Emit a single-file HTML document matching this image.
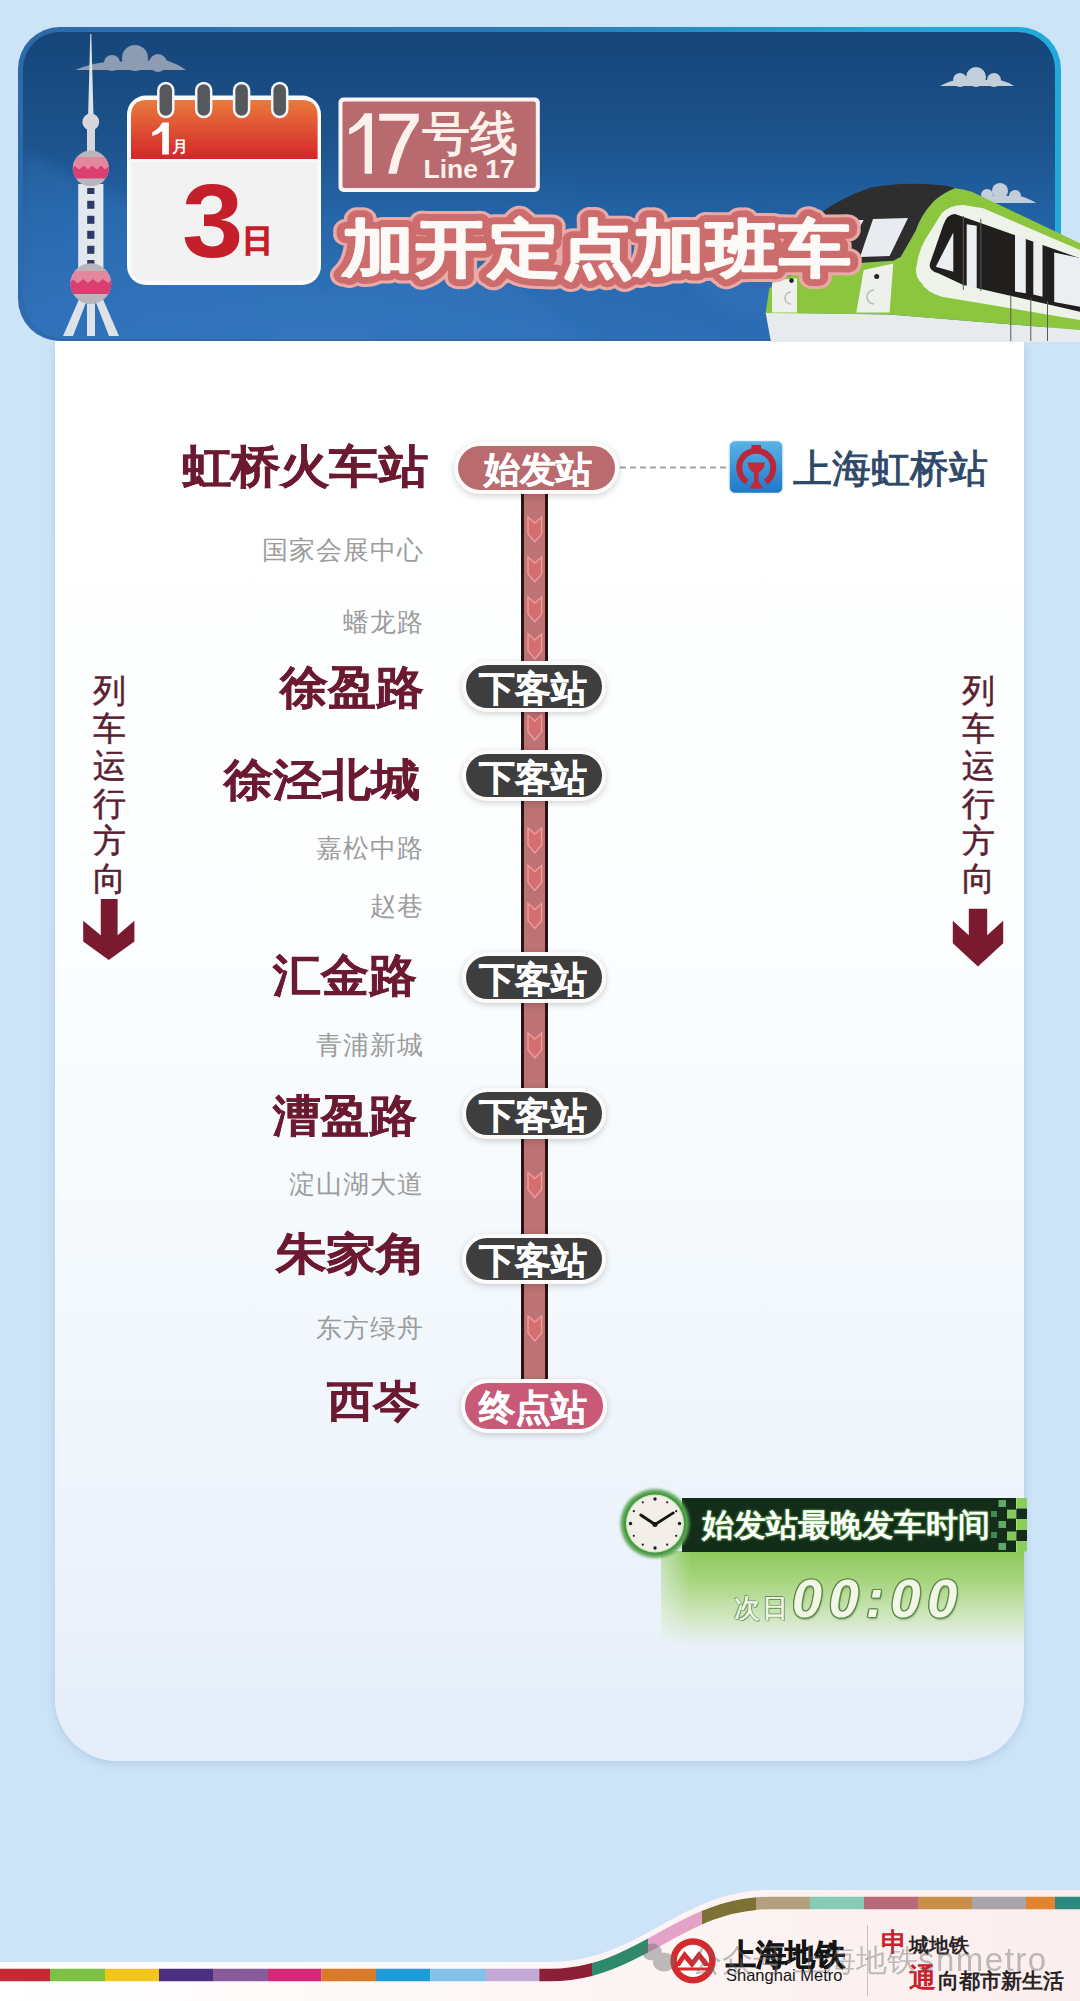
<!DOCTYPE html>
<html><head><meta charset="utf-8">
<style>
html,body{margin:0;padding:0}
body{width:1080px;height:2001px;overflow:hidden;background:#cde3f7;font-family:"Liberation Sans",sans-serif;position:relative}
.a{position:absolute}
#header{left:18px;top:27px;width:1043px;height:314px;border-radius:42px;background:linear-gradient(90deg,#2c6aa9 0%,#2a7cb8 50%,#22a6d8 85%,#22aadc 100%);overflow:hidden}
#hin{left:5px;top:5px;right:6px;bottom:0;border-radius:37px 37px 40px 40px;box-shadow:inset 0 -2px 0 #2a5e9f;background:radial-gradient(ellipse 500px 200px at 300px 314px,rgba(60,130,200,.35),rgba(60,130,200,0)),linear-gradient(180deg,#16467a 0%,#1b5088 30%,#2262a4 60%,#2869b0 85%,#2a6cb4 100%)}
#card{left:55px;top:341px;width:969px;height:1420px;border-radius:0 0 62px 62px;background:linear-gradient(180deg,#ffffff 0%,#fcfeff 40%,#f4f9fd 65%,#ecf3fb 85%,#e4edf9 100%);box-shadow:0 2px 10px rgba(120,160,200,.35)}
.maj{font-size:50px;font-weight:bold;color:#6b1a32;-webkit-text-stroke:0.5px #6b1a32;text-align:right;line-height:50px;white-space:nowrap}
.min{font-size:26px;color:#9c9c9c;text-align:right;line-height:26px;white-space:nowrap;letter-spacing:1px}
.pill{box-sizing:border-box;border:4px solid #fdfbfa;border-radius:30px;text-align:center;color:#fff;font-weight:bold;font-size:36px;box-shadow:0 2px 7px rgba(0,0,0,.18);white-space:nowrap;-webkit-text-stroke:0.4px #fff;padding-top:2px;padding-right:3px}
.dk{background:#3e3e3e}
.vt{font-size:33px;line-height:37.6px;color:#5a1f30;-webkit-text-stroke:0.5px #5a1f30;width:40px;text-align:center}
</style></head><body>
<div id="header" class="a"><div id="hin" class="a"><svg class="a" style="left:0;top:0" width="1032" height="309" viewBox="0 0 1032 309">
<defs><filter id="sft" x="-50%" y="-50%" width="200%" height="200%"><feGaussianBlur stdDeviation="6"/></filter></defs>
<g fill="#3a7cc4" opacity="0.28" filter="url(#sft)">
<ellipse cx="737" cy="235" rx="70" ry="50"/>
<path d="M0 120 L300 260 L300 309 L0 309 Z"/>
<path d="M250 309 Q400 150 560 309 Z"/>
</g>
</svg></div></div>
<div id="card" class="a"></div>
<svg class="a" style="left:0;top:0" width="1080" height="345" viewBox="0 0 1080 345">
<defs>
<linearGradient id="calhd" x1="0" y1="0" x2="0" y2="1"><stop offset="0" stop-color="#ea7a3c"/><stop offset="1" stop-color="#d3262a"/></linearGradient>
<clipPath id="sph1"><circle cx="90.8" cy="168.4" r="18"/></clipPath>
<clipPath id="sph2"><circle cx="90.8" cy="283.6" r="20.4"/></clipPath>
</defs>
<!-- left cloud -->
<g fill="#8d9cb2">
<circle cx="135" cy="58" r="13"/><circle cx="112" cy="63" r="8"/><circle cx="158" cy="63" r="9"/>
<path d="M75 70 Q95 62 110 62 L165 60 Q178 64 186 70 Z"/>
</g>
<!-- right clouds -->
<g fill="#c3cedb">
<circle cx="976" cy="77" r="10"/><circle cx="960" cy="80" r="7"/><circle cx="994" cy="80" r="7"/>
<path d="M940 86 Q950 80 960 80 L1000 80 Q1008 82 1014 86 Z"/>
<circle cx="1000" cy="191" r="8"/><circle cx="987" cy="195" r="6"/><circle cx="1015" cy="196" r="6"/>
<path d="M975 203 Q983 197 990 196 L1020 196 Q1030 199 1036 203 Z"/>
</g>
<!-- tower -->
<g fill="#dde1e8">
<path d="M90.3 34 L91.3 34 L93.5 116 L88.1 116 Z"/>
<circle cx="90.8" cy="122" r="8.4" fill="#d6d7da"/>
<rect x="87" y="128" width="8" height="26" fill="#d5d7db"/>
<rect x="78.2" y="184" width="25.2" height="84" fill="#e3e7ee"/>
<path d="M80 297 L87 300 L73 336 L63 336 Z"/>
<rect x="87" y="298" width="8" height="38"/>
<path d="M95 300 L102 297 L119 336 L109 336 Z"/>
</g>
<g fill="#2b3a66">
<rect x="87.2" y="188" width="7.2" height="6"/><rect x="87.2" y="200.8" width="7.2" height="8"/><rect x="87.2" y="215.8" width="7.2" height="8"/><rect x="87.2" y="230.8" width="7.2" height="8"/><rect x="87.2" y="245.8" width="7.2" height="8"/><rect x="87.2" y="260" width="7.2" height="5"/>
</g>
<g clip-path="url(#sph1)">
<rect x="70" y="148" width="42" height="42" fill="#b9b5bb"/>
<rect x="70" y="157" width="42" height="14" fill="#e3879e"/>
<path d="M70 170 L75 166 L79 169.5 L84 165.5 L88 169.5 L92 165.5 L97 169.5 L101 165.5 L105 169.5 L110 165.5 L112 168 L112 178.5 L70 178.5 Z" fill="#db3f72"/>
</g>
<g clip-path="url(#sph2)">
<rect x="68" y="262" width="46" height="44" fill="#b9b5bb"/>
<rect x="68" y="271" width="46" height="14" fill="#e3879e"/>
<path d="M68 284 L73 279.5 L78 283.5 L83 279 L88 283 L93 279 L98 283 L103 279 L108 283 L113 279 L114 281 L114 294 L68 294 Z" fill="#db3f72"/>
</g>
<!-- calendar -->
<rect x="127" y="95.5" width="194" height="189.5" rx="19" fill="#fbfbfb"/>
<path d="M131 162 L317.6 162 L317.6 266 Q317.6 281 302.6 281 L146 281 Q131 281 131 266 Z" fill="#f2f2f2"/>
<path d="M131 159 L131 116 Q131 100 147 100 L301.6 100 Q317.6 100 317.6 116 L317.6 159 Z" fill="url(#calhd)"/>
<g fill="#55595e" stroke="#f4f4f4" stroke-width="2.5">
<rect x="158.3" y="83" width="15" height="34" rx="7.5"/><rect x="196.2" y="83" width="15" height="34" rx="7.5"/><rect x="234.1" y="83" width="15" height="34" rx="7.5"/><rect x="272.2" y="83" width="15" height="34" rx="7.5"/>
</g>
<path d="M162.2 122.5 L168.9 122.5 L168.9 154.4 L162.2 154.4 L162.2 131 Q158 134.5 152.2 136.1 L152.2 132.2 Q159 129 162.2 122.5 Z" fill="#fff"/>
<text x="172" y="152" font-family="Liberation Sans" font-weight="bold" font-size="15.5" fill="#fff">月</text>
<text x="182" y="257" font-family="Liberation Sans" font-weight="bold" font-size="104" fill="#c41f2a" transform="translate(182,0) scale(1.06,1) translate(-182,0)">3</text>
<text x="242" y="251" font-family="Liberation Sans" font-weight="bold" font-size="31" fill="#c41f2a" stroke="#c41f2a" stroke-width="1.2">日</text>
<!-- line box -->
<rect x="338.5" y="97.5" width="201.3" height="94.5" rx="5" fill="#fbf6f4"/>
<rect x="342.5" y="101.5" width="193.3" height="86.5" rx="2" fill="#b86a6e"/>
<path d="M364.6 113.3 L372 113.3 L372 173.75 L364.6 173.75 L364.6 124.5 Q358 131 349.2 134.6 L349.2 128.5 Q358 124 364.6 113.3 Z" fill="#fdf1ec"/><path d="M379.2 113.75 L418.75 113.75 L418.75 120.8 Q402 145 396.7 173.75 L388.3 173.75 Q393 145 410.5 120.8 L379.2 120.8 Z" fill="#fdf1ec"/>
<text x="422" y="150" font-family="Liberation Sans" font-size="48" fill="#fdf1ec" stroke="#fdf1ec" stroke-width="1">号线</text>
<text x="423.5" y="178" font-family="Liberation Sans" font-weight="bold" font-size="26.5" fill="#fdf1ec">Line 17</text>
</svg>
<svg class="a" style="left:0;top:0" width="1080" height="345" viewBox="0 0 1080 345">
<!-- skirt -->
<path d="M765.6 312.6 L889.6 314.4 L1080 330 L1080 342 L771 342 Z" fill="#e8ebee"/>
<!-- roof dark -->
<path d="M821 212.6 Q843 197 871 187.6 Q905 181 946.7 185.8 L955 188.3 Q943 193 933.3 201.7 Q921 215 915.6 231 L900.7 257 L893.3 260.7 L852.6 263.5 Q838 240 821 212.6 Z" fill="#2e2e2e"/>
<!-- front green lower -->
<path d="M765.6 313 L769.3 288.5 Q780 277 797 273.7 L821 268 L852.6 263.5 L893.3 260.7 L900.7 257 L889.6 314.4 Z" fill="#8cc63f"/>
<!-- side green -->
<path d="M955 188.3 Q963 189 971.7 191.7 L1080 243.3 L1080 330 L889.6 314.4 L893.3 273.7 Q896 262 900.7 257 L915.6 231 Q921 215 933.3 201.7 Q943 193 955 188.3 Z" fill="#8cc63f"/>
<!-- white stripe -->
<path d="M963.3 205 L983.3 208.3 L1080 250 L1080 320 L941.7 296.7 Q926 292 921.7 283.3 Q914 276 916.7 265 Q919 250 925 240 L941.7 213.3 Q950 205 963.3 205 Z" fill="#eef3ea"/>
<!-- window band -->
<path d="M955 214 L1080 258.3 L1080 311.7 L963.3 285 L938.3 273.3 Q928 270 930 263.3 L943.3 225 Q947 214 955 214 Z" fill="#211e1e"/>
<g fill="#eceff2">
<path d="M953.3 232.5 L953.3 271.7 L935.8 266.7 Z"/>
<path d="M966.7 224.2 L976.7 225.8 L976.7 288.3 L966.7 286.7 Z"/>
<path d="M1015 233.3 L1025.8 235.5 L1025.8 293.3 L1015 291.5 Z"/>
<path d="M1033.3 241.7 L1042.5 243.5 L1042.5 296.7 L1033.3 294.5 Z"/>
<path d="M1054.2 252.5 L1080 258 L1080 306.7 L1054.2 302 Z"/>
</g>
<g stroke="#5a5a5a" stroke-width="1">
<line x1="963.3" y1="216" x2="963.3" y2="290"/><line x1="980.8" y1="219" x2="980.8" y2="291"/>
<line x1="1010.8" y1="295" x2="1010.8" y2="341"/><line x1="1030.8" y1="298" x2="1030.8" y2="341"/><line x1="1047.5" y1="301" x2="1047.5" y2="341"/>
</g>
<!-- windshield -->
<path d="M873 219 L908 218 L889.6 256 L860 257 Z" fill="#e8ecf0"/>
<path d="M852.6 220 L863.7 220 L856.3 233 L849 234 Z" fill="#e8ecf0"/>
<!-- headlight panels -->
<path d="M772 284 Q773 280 777 280 L797 278.3 L797 312.6 L772 312.6 Z" fill="#eef0ec"/>
<path d="M863.7 270 L893.3 263.5 L889.6 312.6 L856.3 312.6 Z" fill="#eef0ec"/>
<circle cx="791.5" cy="280.6" r="2.3" fill="#222"/><circle cx="876.7" cy="276.5" r="2.5" fill="#222"/>
<path d="M791 292 A6 6 0 0 0 791 304" fill="none" stroke="#b8bcbc" stroke-width="1.5"/>
<path d="M874 290 A7 7 0 0 0 874 304" fill="none" stroke="#b8bcbc" stroke-width="1.5"/>
</svg>
<svg class="a" style="left:0;top:0" width="1080" height="345" viewBox="0 0 1080 345">
<g font-family="Liberation Sans" font-weight="bold" font-size="72" stroke-linejoin="round">
<g transform="translate(0,270) scale(1,0.86) translate(0,-270)">
<text x="342" y="270" letter-spacing="1" stroke="#e9aaa7" stroke-width="25" fill="#e9aaa7">加开定点加班车</text>
<text x="342" y="270" letter-spacing="1" stroke="#cd6c6c" stroke-width="18" fill="#cd6c6c">加开定点加班车</text>
<text x="342" y="270" letter-spacing="1" stroke="#fdf9f6" stroke-width="2" fill="#fdf9f6">加开定点加班车</text>
</g>
</g>
</svg>


<!-- route line -->
<div class="a" style="left:521px;top:490px;width:21px;height:892px;border-left:3px solid #2a1416;border-right:3px solid #2a1416;background:#bd7274"></div>

<!-- station labels -->
<div class="a maj" style="right:652px;top:442px;transform:scale(0.986,0.9);transform-origin:100% 50%">虹桥火车站</div>
<div class="a min" style="right:656px;top:537px">国家会展中心</div>
<div class="a min" style="right:656px;top:609px">蟠龙路</div>
<div class="a maj" style="right:656px;top:663px;transform:scale(0.957,0.9);transform-origin:100% 50%">徐盈路</div>
<div class="a maj" style="right:660px;top:755px;transform:scale(0.98,0.88);transform-origin:100% 50%">徐泾北城</div>
<div class="a min" style="right:656px;top:835px">嘉松中路</div>
<div class="a min" style="right:656px;top:893px">赵巷</div>
<div class="a maj" style="right:663px;top:951px;transform:scale(0.958,0.9);transform-origin:100% 50%">汇金路</div>
<div class="a min" style="right:656px;top:1032px">青浦新城</div>
<div class="a maj" style="right:663px;top:1091px;transform:scale(0.958,0.88);transform-origin:100% 50%">漕盈路</div>
<div class="a min" style="right:656px;top:1171px">淀山湖大道</div>
<div class="a maj" style="right:654px;top:1229px;transform:scale(1,0.87);transform-origin:100% 50%">朱家角</div>
<div class="a min" style="right:656px;top:1315px">东方绿舟</div>
<div class="a maj" style="right:660px;top:1376px;transform:scale(0.935,0.86);transform-origin:100% 50%">西岑</div>

<svg class="a" style="left:0;top:0" width="1080" height="1500" viewBox="0 0 1080 1500">
<g fill="#d46e70" stroke="#f09c9c" stroke-width="1.4" stroke-linejoin="miter"><path d="M528 517 L534.8 523 L541.6 517 L541.6 534 L534.8 542 L528 534 Z"/><path d="M528 557 L534.8 563 L541.6 557 L541.6 574 L534.8 582 L528 574 Z"/><path d="M528 597 L534.8 603 L541.6 597 L541.6 614 L534.8 622 L528 614 Z"/><path d="M528 634 L534.8 640 L541.6 634 L541.6 651 L534.8 659 L528 651 Z"/><path d="M528 715 L534.8 721 L541.6 715 L541.6 732 L534.8 740 L528 732 Z"/><path d="M528 828 L534.8 834 L541.6 828 L541.6 845 L534.8 853 L528 845 Z"/><path d="M528 865.5 L534.8 871.5 L541.6 865.5 L541.6 882.5 L534.8 890.5 L528 882.5 Z"/><path d="M528 903.5 L534.8 909.5 L541.6 903.5 L541.6 920.5 L534.8 928.5 L528 920.5 Z"/><path d="M528 1033 L534.8 1039 L541.6 1033 L541.6 1050 L534.8 1058 L528 1050 Z"/><path d="M528 1172.5 L534.8 1178.5 L541.6 1172.5 L541.6 1189.5 L534.8 1197.5 L528 1189.5 Z"/><path d="M528 1316 L534.8 1322 L541.6 1316 L541.6 1333 L534.8 1341 L528 1333 Z"/></g>
<line x1="620" y1="467.5" x2="727" y2="467.5" stroke="#a3a3a3" stroke-width="2" stroke-dasharray="6 4"/>
<defs><linearGradient id="crg" x1="0" y1="0" x2="0" y2="1"><stop offset="0" stop-color="#5ab4e8"/><stop offset="1" stop-color="#1d78c8"/></linearGradient></defs>
<rect x="729" y="440.5" width="54" height="53" rx="6" fill="url(#crg)" stroke="#e9f3fb" stroke-width="1.5"/>
<path d="M747 482 A17 17 0 1 1 765.5 482" fill="none" stroke="#b8283a" stroke-width="6"/>
<rect x="751.5" y="445" width="9.5" height="4" fill="#b8283a"/>
<path d="M747.5 462.5 L765 462.5 Q764 470 758.8 472.5 L758.3 481 L763.5 488.5 L749 488.5 L754.2 481 L753.7 472.5 Q748.5 470 747.5 462.5 Z" fill="#c22838"/>
<g fill="#7a1a2e">
<path d="M100.8 899 L117.6 899 L117.6 935.2 L134.4 920.8 L134.4 941.6 L108.8 960 L83.2 941.6 L83.2 920.8 L100.8 935.2 Z"/>
<path d="M968.8 908.8 L987.2 908.8 L987.2 935.2 L1003.2 920.8 L1003.2 943.2 L978 966.4 L952.8 943.2 L952.8 920.8 L968.8 935.2 Z"/>
</g>
</svg>
<div class="a" style="left:793px;top:446px;font-size:39px;line-height:46px;color:#2e4868;-webkit-text-stroke:0.9px #2e4868;letter-spacing:0px;white-space:nowrap">上海虹桥站</div>

<!-- pills -->
<div class="a pill" style="left:454px;top:442px;width:165px;height:52px;line-height:44px;background:#b96b70;padding-right:0;padding-left:3px">始发站</div>
<div class="a pill dk" style="left:462px;top:661px;width:144px;height:51px;line-height:43px">下客站</div>
<div class="a pill dk" style="left:462px;top:750px;width:144px;height:51px;line-height:43px">下客站</div>
<div class="a pill dk" style="left:462px;top:952px;width:144px;height:51px;line-height:43px">下客站</div>
<div class="a pill dk" style="left:462px;top:1088px;width:144px;height:51px;line-height:43px">下客站</div>
<div class="a pill dk" style="left:462px;top:1234px;width:144px;height:50px;line-height:42px">下客站</div>
<div class="a pill" style="left:461px;top:1379px;width:146px;height:54px;line-height:46px;background:#c85a78">终点站</div>

<!-- direction text -->
<div class="a vt" style="left:89px;top:672px">列<br>车<br>运<br>行<br>方<br>向</div>
<div class="a vt" style="left:958px;top:672px">列<br>车<br>运<br>行<br>方<br>向</div>


<div class="a" style="left:661px;top:1551px;width:363px;height:95px;background:linear-gradient(180deg,#8ec95c 0%,#a6d47c 30%,#cfe6bd 68%,rgba(234,240,250,0) 100%)"></div>
<div class="a" style="left:661px;top:1551px;width:30px;height:95px;background:linear-gradient(90deg,rgba(236,243,250,.55),rgba(236,243,250,0))"></div>
<div class="a" style="left:682px;top:1498px;width:334px;height:53.5px;background:#142c1a"></div>
<svg class="a" style="left:0;top:1400px" width="1080" height="300" viewBox="0 1400 1080 300">
<defs><filter id="blr" x="-20%" y="-20%" width="140%" height="140%"><feGaussianBlur stdDeviation="1.5"/></filter></defs>
<rect x="991" y="1511" width="6" height="6" fill="#3f8a4e"/><rect x="991" y="1532" width="6" height="6" fill="#3f8a4e"/><rect x="998.5" y="1500" width="7.5" height="7" fill="#62a868"/><rect x="998.5" y="1521" width="7.5" height="7" fill="#62a868"/><rect x="998.5" y="1543" width="7.5" height="7" fill="#62a868"/><rect x="1007" y="1509.6" width="9.3" height="9" fill="#86c85e"/><rect x="1007" y="1531.5" width="9.3" height="9" fill="#86c85e"/><rect x="1016.3" y="1498" width="10.7" height="10.5" fill="#8ccf58"/><rect x="1016.3" y="1508.5" width="10.7" height="10.5" fill="#142c1a"/><rect x="1016.3" y="1519" width="10.7" height="11" fill="#8ccf58"/><rect x="1016.3" y="1530" width="10.7" height="11" fill="#142c1a"/><rect x="1016.3" y="1541" width="10.7" height="10.5" fill="#8ccf58"/>
<circle cx="655" cy="1523.5" r="34.5" fill="#5aa650" filter="url(#blr)"/>
<circle cx="655" cy="1523.5" r="31" fill="#49964a"/>
<circle cx="655" cy="1523.5" r="29" fill="#cdeeb8"/>
<circle cx="655" cy="1523.5" r="27.8" fill="#f3efe8"/>
<g fill="#1e1e1e"><circle cx="655.0" cy="1499.0" r="1.7"/><circle cx="667.2" cy="1502.3" r="1.1"/><circle cx="676.2" cy="1511.2" r="1.1"/><circle cx="679.5" cy="1523.5" r="1.7"/><circle cx="676.2" cy="1535.8" r="1.1"/><circle cx="667.2" cy="1544.7" r="1.1"/><circle cx="655.0" cy="1548.0" r="1.7"/><circle cx="642.8" cy="1544.7" r="1.1"/><circle cx="633.8" cy="1535.8" r="1.1"/><circle cx="630.5" cy="1523.5" r="1.7"/><circle cx="633.8" cy="1511.2" r="1.1"/><circle cx="642.8" cy="1502.3" r="1.1"/></g>
<path d="M655 1524.5 L640.8 1515" stroke="#151515" stroke-width="3" stroke-linecap="round"/>
<path d="M655 1524.5 L673.3 1512.9" stroke="#151515" stroke-width="2.8" stroke-linecap="round"/>
<circle cx="655" cy="1524.5" r="2.5" fill="#151515"/>
</svg>
<div class="a" style="left:702px;top:1505px;font-size:31.5px;line-height:40px;font-weight:bold;color:#fff;white-space:nowrap;text-shadow:0 0 2px #4a9a3a,0 0 3px #4a9a3a">始发站最晚发车时间</div>
<div class="a" style="left:734px;top:1592px;font-size:26px;line-height:32px;color:#f4f8ec;letter-spacing:2px;-webkit-text-stroke:0.6px #f4f8ec;white-space:nowrap;text-shadow:1px 0 0 #5f8f4c,-1px 0 0 #5f8f4c,0 1px 0 #5f8f4c,0 -1px 0 #5f8f4c,1px 1px 0 #5f8f4c,-1px -1px 0 #5f8f4c">次日</div>
<div class="a" style="left:792px;top:1570px;font-size:54px;line-height:56px;font-weight:bold;font-style:italic;color:#f1f6e6;white-space:nowrap;letter-spacing:6.8px;text-shadow:1.3px 0 0 #5a8c47,-1.3px 0 0 #5a8c47,0 1.3px 0 #5a8c47,0 -1.3px 0 #5a8c47,1px 1px 0 #5a8c47,-1px -1px 0 #5a8c47,1px -1px 0 #5a8c47,-1px 1px 0 #5a8c47,1px 2px 2px rgba(60,100,50,.6)">00:00</div>

<svg class="a" style="left:0;top:1850px" width="1080" height="151" viewBox="0 1850 1080 151">
<defs><clipPath id="sc0"><rect x="0" y="1880" width="50" height="121"/></clipPath><clipPath id="sc1"><rect x="50" y="1880" width="55" height="121"/></clipPath><clipPath id="sc2"><rect x="105" y="1880" width="54" height="121"/></clipPath><clipPath id="sc3"><rect x="159" y="1880" width="54" height="121"/></clipPath><clipPath id="sc4"><rect x="213" y="1880" width="55" height="121"/></clipPath><clipPath id="sc5"><rect x="268" y="1880" width="53.5" height="121"/></clipPath><clipPath id="sc6"><rect x="321.5" y="1880" width="54.5" height="121"/></clipPath><clipPath id="sc7"><rect x="376" y="1880" width="54.39999999999998" height="121"/></clipPath><clipPath id="sc8"><rect x="430.4" y="1880" width="55.60000000000002" height="121"/></clipPath><clipPath id="sc9"><rect x="486" y="1880" width="53.299999999999955" height="121"/></clipPath><clipPath id="sc10"><rect x="539.3" y="1880" width="52.700000000000045" height="121"/></clipPath><clipPath id="sc11"><rect x="592" y="1880" width="56" height="121"/></clipPath><clipPath id="sc12"><rect x="648" y="1880" width="54" height="121"/></clipPath><clipPath id="sc13"><rect x="702" y="1880" width="54" height="121"/></clipPath><clipPath id="sc14"><rect x="756" y="1880" width="54" height="121"/></clipPath><clipPath id="sc15"><rect x="810" y="1880" width="54" height="121"/></clipPath><clipPath id="sc16"><rect x="864" y="1880" width="54" height="121"/></clipPath><clipPath id="sc17"><rect x="918" y="1880" width="54" height="121"/></clipPath><clipPath id="sc18"><rect x="972" y="1880" width="54" height="121"/></clipPath><clipPath id="sc19"><rect x="1026" y="1880" width="29" height="121"/></clipPath><clipPath id="sc20"><rect x="1055" y="1880" width="25" height="121"/></clipPath>
<linearGradient id="ftg" x1="0" y1="0" x2="1" y2="0"><stop offset="0" stop-color="#ffffff"/><stop offset="0.55" stop-color="#fdf5f5"/><stop offset="1" stop-color="#fbeeee"/></linearGradient>
</defs>
<path d="M-5 1962 L550 1962 C640 1962 680 1890 770 1890 L1085 1890 L1085 2005 L-5 2005 Z" fill="url(#ftg)"/>
<g fill="none" stroke-width="12.5"><path d="M-5 1975 L550 1975 C640 1975 680 1903 770 1903 L1085 1903" stroke="#c52a33" clip-path="url(#sc0)"/><path d="M-5 1975 L550 1975 C640 1975 680 1903 770 1903 L1085 1903" stroke="#7cc143" clip-path="url(#sc1)"/><path d="M-5 1975 L550 1975 C640 1975 680 1903 770 1903 L1085 1903" stroke="#f1c51c" clip-path="url(#sc2)"/><path d="M-5 1975 L550 1975 C640 1975 680 1903 770 1903 L1085 1903" stroke="#4b2f82" clip-path="url(#sc3)"/><path d="M-5 1975 L550 1975 C640 1975 680 1903 770 1903 L1085 1903" stroke="#8a5b9b" clip-path="url(#sc4)"/><path d="M-5 1975 L550 1975 C640 1975 680 1903 770 1903 L1085 1903" stroke="#d6287b" clip-path="url(#sc5)"/><path d="M-5 1975 L550 1975 C640 1975 680 1903 770 1903 L1085 1903" stroke="#d97b2b" clip-path="url(#sc6)"/><path d="M-5 1975 L550 1975 C640 1975 680 1903 770 1903 L1085 1903" stroke="#1f9bd7" clip-path="url(#sc7)"/><path d="M-5 1975 L550 1975 C640 1975 680 1903 770 1903 L1085 1903" stroke="#80c2e8" clip-path="url(#sc8)"/><path d="M-5 1975 L550 1975 C640 1975 680 1903 770 1903 L1085 1903" stroke="#c2a9d6" clip-path="url(#sc9)"/><path d="M-5 1975 L550 1975 C640 1975 680 1903 770 1903 L1085 1903" stroke="#8a1f36" clip-path="url(#sc10)"/><path d="M-5 1975 L550 1975 C640 1975 680 1903 770 1903 L1085 1903" stroke="#2e8a6b" clip-path="url(#sc11)"/><path d="M-5 1975 L550 1975 C640 1975 680 1903 770 1903 L1085 1903" stroke="#e3a3c8" clip-path="url(#sc12)"/><path d="M-5 1975 L550 1975 C640 1975 680 1903 770 1903 L1085 1903" stroke="#7b7233" clip-path="url(#sc13)"/><path d="M-5 1975 L550 1975 C640 1975 680 1903 770 1903 L1085 1903" stroke="#b4a07f" clip-path="url(#sc14)"/><path d="M-5 1975 L550 1975 C640 1975 680 1903 770 1903 L1085 1903" stroke="#84ccb4" clip-path="url(#sc15)"/><path d="M-5 1975 L550 1975 C640 1975 680 1903 770 1903 L1085 1903" stroke="#b86a79" clip-path="url(#sc16)"/><path d="M-5 1975 L550 1975 C640 1975 680 1903 770 1903 L1085 1903" stroke="#c98f48" clip-path="url(#sc17)"/><path d="M-5 1975 L550 1975 C640 1975 680 1903 770 1903 L1085 1903" stroke="#a9a3aa" clip-path="url(#sc18)"/><path d="M-5 1975 L550 1975 C640 1975 680 1903 770 1903 L1085 1903" stroke="#e3822f" clip-path="url(#sc19)"/><path d="M-5 1975 L550 1975 C640 1975 680 1903 770 1903 L1085 1903" stroke="#2a8a80" clip-path="url(#sc20)"/></g>
<line x1="867.5" y1="1925" x2="867.5" y2="1996" stroke="#c8c0c0" stroke-width="1"/>
<circle cx="693" cy="1960.8" r="19.4" fill="#fff" stroke="#d42a2e" stroke-width="6.5"/>
<path d="M674 1966 L684.5 1951 L692 1960 L699 1951 L711 1966 L704 1966 L699 1959 L692 1968 L684.5 1959 L680 1966 Z" fill="#d42a2e"/>
<path d="M673 1969 L713 1969" stroke="#d42a2e" stroke-width="3"/>
<text x="726" y="1965" font-family="Liberation Sans" font-weight="bold" font-size="30" fill="#141414" stroke="#141414" stroke-width="0.8" letter-spacing="-0.5">上海地铁</text>
<text x="726" y="1980.5" font-family="Liberation Sans" font-size="16.5" fill="#141414">Shanghai Metro</text>
<g font-family="'Liberation Serif', serif" font-weight="bold">
<text x="881" y="1951" font-size="26" fill="#c8202e">申</text>
<text x="909" y="1952" font-size="20" fill="#2a2424">城地铁</text>
<text x="909" y="1987" font-size="27" fill="#c8202e">通</text>
<text x="938" y="1988" font-size="21" fill="#2a2424">向都市新生活</text>
</g>
<g opacity="0.42" fill="#6a6a6a">
<ellipse cx="652" cy="1952" rx="10" ry="8.5"/><ellipse cx="664" cy="1962" rx="11" ry="9.5"/>
<text x="918" y="1971" font-family="Liberation Sans" font-size="31" text-anchor="end">公众号·上海地铁</text><text x="918" y="1971" font-family="Liberation Sans" font-size="33" letter-spacing="1.5">shmetro</text>
</g>
</svg>

</body></html>
